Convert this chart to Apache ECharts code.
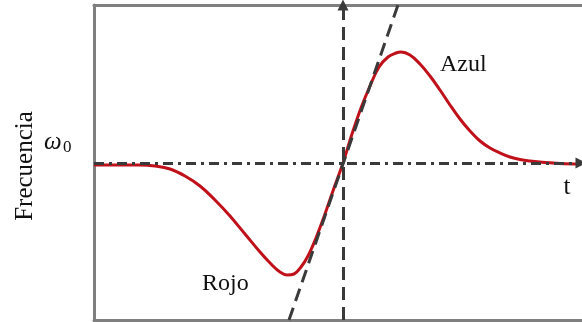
<!DOCTYPE html>
<html>
<head>
<meta charset="utf-8">
<script src="https://cdn.jsdelivr.net/npm/echarts@6/dist/echarts.min.js"></script>
<style>html,body{margin:0;padding:0;background:#fff}#c{width:582px;height:322px}</style>
</head>
<body>
<div id="c"></div>
<script>
// curve: time offset t (relative to crossing) and frequency deviation from ω0
var curveT = [-249,-203,-188,-173,-158,-143,-128,-113,-98,-83,-71,-63,-56,-49,-42,-35,-27,-18,-9,0,9,18,27,36,45,53,58,67,77,87,97,107,117,127,137,147,157,167,177,187,202,217,237];
var curveF = [-2,-2,-3,-6,-13,-23,-37,-53,-71,-89,-102,-109,-112,-111,-104,-93,-75,-51,-25,0,29,55,77,96,106,110,111,108,99,87,73,58,44,32,22,15,10,6,3.5,2,0.5,-0.5,-1];
// tangent line at the crossing point
var tangentT = [-54, 55];
var tangentF = [-157, 158];
// axis ranges
var tMin = -249, tMax = 239;
var fMin = -157, fMax = 158;
// reference lines
var vLineT = 0;
var hLineF = 0;
// labels
var yLabel = 'Frecuencia';
var omegaLabel = 'ω';
var omegaSub = '0';
var tLabel = 't';
var blueLabel = 'Azul';
var redLabel = 'Rojo';

var curveData = curveT.map(function(t,i){return [t, curveF[i]];});
var tangentData = tangentT.map(function(t,i){return [t, tangentF[i]];});

var chart = echarts.init(document.getElementById('c'));
var serif = '"Liberation Serif", "Times New Roman", serif';
var dark = '#3a3a3a';
chart.setOption({
  animation: false,
  backgroundColor: '#fff',
  grid: {left: 94, right: 0, top: 5, bottom: 2},
  xAxis: [
    {type: 'value', min: tMin, max: tMax, position: 'bottom',
     axisLine: {show: true, onZero: false, lineStyle: {color: '#7f7f7f', width: 3}},
     axisTick: {show: false}, axisLabel: {show: false}, splitLine: {show: false}},
    {type: 'value', min: tMin, max: tMax, position: 'top',
     axisLine: {show: true, onZero: false, lineStyle: {color: '#7f7f7f', width: 3}},
     axisTick: {show: false}, axisLabel: {show: false}, splitLine: {show: false}}
  ],
  yAxis: {type: 'value', min: fMin, max: fMax,
     axisLine: {show: true, onZero: false, lineStyle: {color: '#7f7f7f', width: 3}},
     axisTick: {show: false}, axisLabel: {show: false}, splitLine: {show: false}},
  series: [
    {type: 'line', data: curveData, smooth: 0.4, showSymbol: false, z: 2,
     lineStyle: {color: '#c0101a', width: 3}},
    {type: 'line', data: tangentData, showSymbol: false, z: 4,
     lineStyle: {color: dark, width: 3, type: [13, 7]}},
    {type: 'line', data: [], z: 5,
     markLine: {
       silent: true, animation: false,
       symbol: ['none', 'triangle'], symbolSize: 11,
       label: {show: false},
       data: [
         [{coord: [vLineT, fMin], lineStyle: {type: [13, 7], color: dark, width: 3}},
          {coord: [vLineT, fMax]}],
         [{coord: [tMin, hLineF], lineStyle: {type: [10, 5, 3, 5], color: dark, width: 3}},
          {coord: [tMax - 1, hLineF]}]
       ]
     }}
  ],
  graphic: [
    {type: 'text', x: 25, y: 166, rotation: Math.PI / 2,
     style: {text: yLabel, font: '25px ' + serif, fill: '#111', align: 'center', verticalAlign: 'middle'}},
    {type: 'text', x: 44, y: 142,
     style: {text: omegaLabel, font: 'italic 25px ' + serif, fill: '#111', align: 'left', verticalAlign: 'middle'}},
    {type: 'text', x: 63, y: 148,
     style: {text: omegaSub, font: '17px ' + serif, fill: '#111', align: 'left', verticalAlign: 'middle'}},
    {type: 'text', x: 567, y: 187,
     style: {text: tLabel, font: '25px ' + serif, fill: '#111', align: 'center', verticalAlign: 'middle'}},
    {type: 'text', x: 440, y: 65,
     style: {text: blueLabel, font: '24px ' + serif, fill: '#111', align: 'left', verticalAlign: 'middle'}},
    {type: 'text', x: 202, y: 284,
     style: {text: redLabel, font: '24px ' + serif, fill: '#111', align: 'left', verticalAlign: 'middle'}}
  ]
});
</script>
</body>
</html>
